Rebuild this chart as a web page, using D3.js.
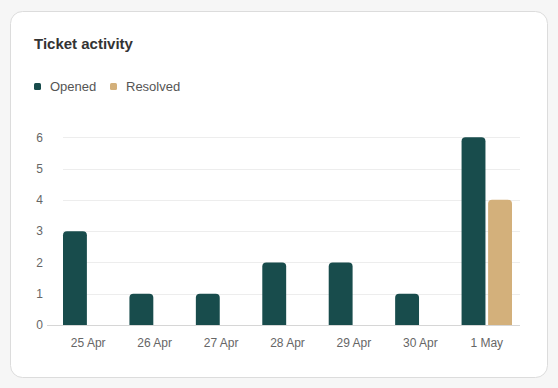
<!DOCTYPE html>
<html>
<head>
<meta charset="utf-8">
<script src="https://cdn.jsdelivr.net/npm/d3@7"></script>
<style>
  html, body { margin: 0; padding: 0; background: #f6f6f6; }
  svg { display: block; font-family: "Liberation Sans", Arial, sans-serif; }
</style>
</head>
<body>
<svg id="chart" width="558" height="388"></svg>
<script>
// ticket activity, grouped bars per day
var days = ["25 Apr", "26 Apr", "27 Apr", "28 Apr", "29 Apr", "30 Apr", "1 May"];
var series = ["Opened", "Resolved"];
var opened = [3, 1, 1, 2, 2, 1, 6];
var resolved = [0, 0, 0, 0, 0, 0, 4];
var yTicks = [0, 1, 2, 3, 4, 5, 6];
var colors = {Opened: "#184c4c", Resolved: "#d3b07b"};

var svg = d3.select("#chart");

// card
svg.append("rect")
  .attr("x", 10.5).attr("y", 11.5)
  .attr("width", 537).attr("height", 366)
  .attr("rx", 12).attr("ry", 12)
  .attr("fill", "#fff")
  .attr("stroke", "#dcdcdc");

svg.append("text")
  .attr("x", 34).attr("y", 49)
  .attr("font-size", 15).attr("font-weight", "bold")
  .attr("fill", "#333")
  .text("Ticket activity");

// legend
var legX = [34, 110];
var leg = svg.append("g").selectAll("g").data(series).enter().append("g")
  .attr("transform", function(d, i) { return "translate(" + legX[i] + ",0)"; });
leg.append("rect")
  .attr("x", 0).attr("y", 83).attr("width", 7).attr("height", 7).attr("rx", 1.5)
  .attr("fill", function(d) { return colors[d]; });
leg.append("text")
  .attr("x", 16).attr("y", 91)
  .attr("font-size", 13).attr("fill", "#555")
  .text(function(d) { return d; });

// scales
var x = d3.scaleBand().domain(days).range([55, 520]);
var xs = d3.scaleBand().domain(series).range([8, x.bandwidth() - 8]).paddingInner(0.1);
var y = d3.scaleLinear().domain([0, 6]).range([325, 137.3]);

// gridlines
svg.append("g").selectAll("line").data(yTicks.filter(function(t) { return t > 0; }))
  .enter().append("line")
  .attr("x1", 63).attr("x2", 520)
  .attr("y1", function(d) { return Math.round(y(d)) + 0.5; })
  .attr("y2", function(d) { return Math.round(y(d)) + 0.5; })
  .attr("stroke", "#ededed");

// y labels
svg.append("g").selectAll("text").data(yTicks).enter().append("text")
  .attr("x", 43).attr("y", function(d) { return y(d); })
  .attr("dy", "0.35em")
  .attr("text-anchor", "end")
  .attr("font-size", 12).attr("fill", "#666")
  .text(function(d) { return d; });

// bars (rounded top)
function barPath(x0, w, top, bottom, r) {
  r = Math.min(r, w / 2, bottom - top);
  return "M" + x0 + "," + bottom +
    "V" + (top + r) +
    "Q" + x0 + "," + top + " " + (x0 + r) + "," + top +
    "H" + (x0 + w - r) +
    "Q" + (x0 + w) + "," + top + " " + (x0 + w) + "," + (top + r) +
    "V" + bottom + "Z";
}

var rows = [];
days.forEach(function(d, i) {
  rows.push({day: d, key: "Opened", v: opened[i]});
  rows.push({day: d, key: "Resolved", v: resolved[i]});
});

svg.append("g").selectAll("path").data(rows.filter(function(r) { return r.v > 0; }))
  .enter().append("path")
  .attr("d", function(r) {
    return barPath(x(r.day) + xs(r.key), xs.bandwidth(), y(r.v), y(0), 4);
  })
  .attr("fill", function(r) { return colors[r.key]; });

// baseline
svg.append("line")
  .attr("x1", 47).attr("x2", 520)
  .attr("y1", 325.5).attr("y2", 325.5)
  .attr("stroke", "#d6d6d6");

// x labels
svg.append("g").selectAll("text").data(days).enter().append("text")
  .attr("x", function(d) { return x(d) + x.bandwidth() / 2; })
  .attr("y", 347)
  .attr("text-anchor", "middle")
  .attr("font-size", 12).attr("fill", "#666")
  .text(function(d) { return d; });
</script>
</body>
</html>
